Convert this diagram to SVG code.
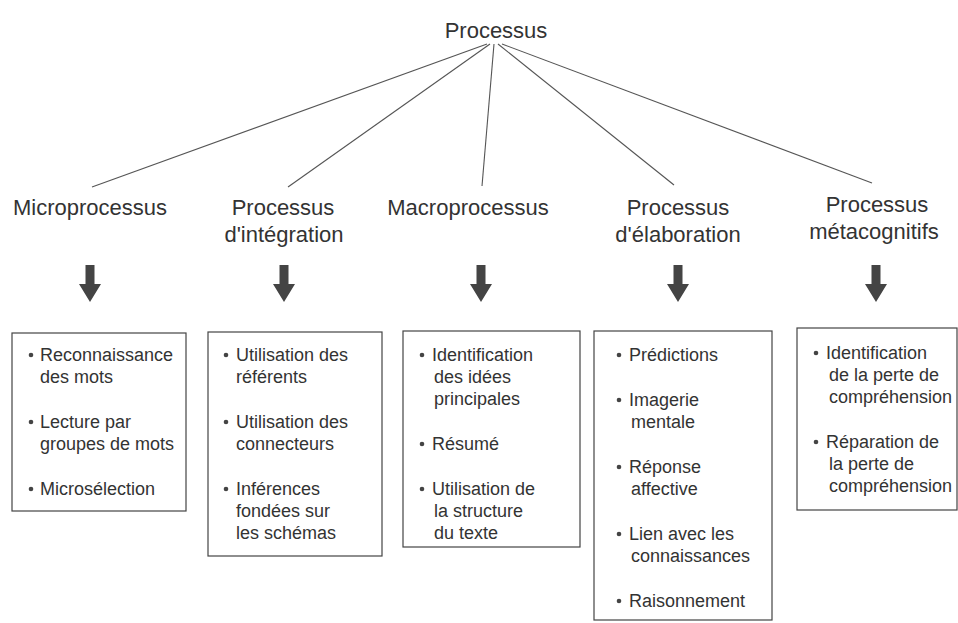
<svg xmlns="http://www.w3.org/2000/svg" width="958" height="623" viewBox="0 0 958 623">
<defs>
<style>
.t{font-family:"Liberation Sans",Arial,Helvetica,sans-serif;fill:#333}
.h{font-size:22px;text-anchor:middle}
.b{font-size:18px}
.box{fill:none;stroke:#444;stroke-width:1.2}
.ln{stroke:#555;stroke-width:1.1;fill:none}
.ar{fill:#444}
.dot{fill:#444}
</style>
<path id="arrow" class="ar" d="M-4.5,0 H4.5 V19 H11 L0,37 L-11,19 H-4.5 Z"/>
</defs>
<rect width="958" height="623" fill="#fff"/>
<g id="connectors">
<line class="ln" x1="487" y1="44" x2="92" y2="187"/>
<line class="ln" x1="490" y1="44" x2="288" y2="187"/>
<line class="ln" x1="494" y1="44" x2="482" y2="186"/>
<line class="ln" x1="498" y1="44" x2="674" y2="185"/>
<line class="ln" x1="502" y1="44" x2="872" y2="183"/>
<use href="#arrow" x="90" y="265"/>
<use href="#arrow" x="284" y="265"/>
<use href="#arrow" x="481" y="265"/>
<use href="#arrow" x="678" y="265"/>
<use href="#arrow" x="876" y="265"/>
</g>
<g id="root"><text class="t h" x="496" y="38">Processus</text></g>
<g id="micro">
<text class="t h" x="90" y="215">Microprocessus</text>
<rect class="box" x="12" y="333" width="174" height="178"/>
<circle class="dot" cx="31" cy="355" r="2.3"/><circle class="dot" cx="31" cy="422" r="2.3"/><circle class="dot" cx="31" cy="489" r="2.3"/>
<text class="t b"><tspan x="40" y="361">Reconnaissance</tspan><tspan x="40" y="383">des mots</tspan><tspan x="40" y="428">Lecture par</tspan><tspan x="40" y="450">groupes de mots</tspan><tspan x="40" y="495">Microsélection</tspan></text>
</g>
<g id="integration">
<text class="t h"><tspan x="283" y="215">Processus</tspan><tspan x="284" y="242">d'intégration</tspan></text>
<rect class="box" x="208" y="332" width="174" height="224"/>
<circle class="dot" cx="226" cy="355" r="2.3"/><circle class="dot" cx="226" cy="422" r="2.3"/><circle class="dot" cx="226" cy="489" r="2.3"/>
<text class="t b"><tspan x="236" y="361">Utilisation des</tspan><tspan x="236" y="383">référents</tspan><tspan x="236" y="428">Utilisation des</tspan><tspan x="236" y="450">connecteurs</tspan><tspan x="236" y="495">Inférences</tspan><tspan x="236" y="517">fondées sur</tspan><tspan x="236" y="539">les schémas</tspan></text>
</g>
<g id="macro">
<text class="t h" x="468" y="215">Macroprocessus</text>
<rect class="box" x="403" y="331" width="177" height="216"/>
<circle class="dot" cx="422" cy="355" r="2.3"/><circle class="dot" cx="422" cy="444" r="2.3"/><circle class="dot" cx="422" cy="489" r="2.3"/>
<text class="t b"><tspan x="432" y="361">Identification</tspan><tspan x="434" y="383">des idées</tspan><tspan x="434" y="405">principales</tspan><tspan x="432" y="450">Résumé</tspan><tspan x="432" y="495">Utilisation de</tspan><tspan x="434" y="517">la structure</tspan><tspan x="434" y="539">du texte</tspan></text>
</g>
<g id="elaboration">
<text class="t h"><tspan x="678" y="215">Processus</tspan><tspan x="678" y="242">d'élaboration</tspan></text>
<rect class="box" x="594" y="331" width="178" height="289"/>
<circle class="dot" cx="619" cy="355" r="2.3"/><circle class="dot" cx="619" cy="400" r="2.3"/><circle class="dot" cx="619" cy="467" r="2.3"/><circle class="dot" cx="619" cy="534" r="2.3"/><circle class="dot" cx="619" cy="601" r="2.3"/>
<text class="t b"><tspan x="629" y="361">Prédictions</tspan><tspan x="629" y="406">Imagerie</tspan><tspan x="631" y="428">mentale</tspan><tspan x="629" y="473">Réponse</tspan><tspan x="631" y="495">affective</tspan><tspan x="629" y="540">Lien avec les</tspan><tspan x="631" y="562">connaissances</tspan><tspan x="629" y="607">Raisonnement</tspan></text>
</g>
<g id="metacognitifs">
<text class="t h"><tspan x="877" y="212">Processus</tspan><tspan x="874" y="239">métacognitifs</tspan></text>
<rect class="box" x="797" y="328" width="160" height="182"/>
<circle class="dot" cx="816" cy="353" r="2.3"/><circle class="dot" cx="816" cy="442" r="2.3"/>
<text class="t b"><tspan x="826" y="359">Identification</tspan><tspan x="829" y="381">de la perte de</tspan><tspan x="829" y="403">compréhension</tspan><tspan x="826" y="448">Réparation de</tspan><tspan x="829" y="470">la perte de</tspan><tspan x="829" y="492">compréhension</tspan></text>
</g>
</svg>
